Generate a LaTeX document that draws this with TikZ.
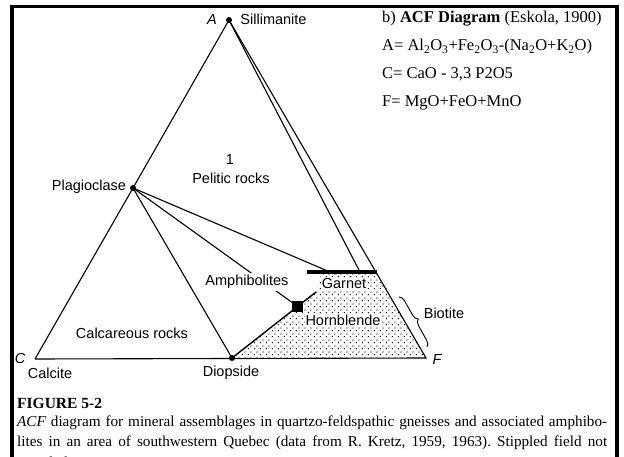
\documentclass[tikz,border=0pt]{standalone}
\usepackage{fontspec}
\setmainfont{Liberation Serif}
\newfontfamily\labelfont{Liberation Sans}
\usetikzlibrary{patterns}
\usetikzlibrary{decorations.pathreplacing}
\frenchspacing
\pgfdeclarepatternformonly{stipple}{\pgfpointorigin}{\pgfqpoint{5.6pt}{5.6pt}}{\pgfqpoint{5.6pt}{5.6pt}}{
  \pgfpathcircle{\pgfqpoint{1.4pt}{1.4pt}}{0.7pt}
  \pgfpathcircle{\pgfqpoint{4.2pt}{4.2pt}}{0.7pt}
  \pgfusepath{fill}
}
\tikzset{
  edge/.style={line width=1.1pt},
  phase/.style={font=\labelfont\fontsize{14.5}{16}\selectfont, inner sep=1pt},
  corner/.style={font=\labelfont\itshape\fontsize{14.5}{16}\selectfont, inner sep=1pt},
  formula/.style={font=\fontsize{16.5}{20}\selectfont, anchor=base west, inner sep=0pt},
  caption/.style={font=\fontsize{15.2}{17}\selectfont, anchor=base west, inner sep=0pt},
  phasedot/.style={circle, fill, inner sep=0pt, minimum size=6pt},
}
\begin{document}
\begin{tikzpicture}[x=1pt,y=-1pt]
  \useasboundingbox (0,0) rectangle (624,457);
  % frame
  \draw[line width=3.5pt] (12,490) -- (12,6.5) -- (617,6.5) -- (617,490);

  % corners and phases
  \coordinate (A) at (229,20);
  \coordinate (C) at (35,359);
  \coordinate (F) at (426,358);
  \coordinate (Pl) at (133,188);
  \coordinate (Di) at (232,358);
  \coordinate (Hb) at (297,306);
  \coordinate (Hend) at (316,292);
  \coordinate (Gl) at (307,272);
  \coordinate (Gr) at (377,272);
  \coordinate (Gp) at (330,272);
  \coordinate (Gs) at (360,272);
  \coordinate (Gd) at (322,272);
  \coordinate (bt) at (399,297);
  \coordinate (bb) at (427,347);

  % stippled field
  \fill[pattern=stipple] (Di) -- (Hend) -- (Gd) -- (Gr) -- (F) -- cycle;

  \draw[edge] (C) -- (Pl) -- (A) -- (F) -- (C);
  \draw[edge] (A) -- (Gs);
  \draw[edge] (Pl) -- (Di);
  \draw[edge] (Pl) -- (Gp);
  \draw[edge] (Pl) -- (Hb);
  \draw[edge, line width=1.4pt] (Di) -- (Hend);
  \draw[line width=4pt] (Gl) -- (Gr);
  \draw[line width=0.9pt, decorate, decoration={brace, amplitude=6pt}] (bt) -- (bb);

  \node[phasedot] (pA) at (A) {};
  \node[phasedot] (pPl) at (Pl) {};
  \node[phasedot] (pDi) at (Di) {};
  \node[fill, minimum size=11pt, inner sep=0pt] (pHb) at (Hb) {};

  % labels
  \node[corner] (lA) at (212,20) {A};
  \node[corner] (lC) at (20,359) {C};
  \node[corner] (lF) at (437,360) {F};
  \node[phase] (lSil) at (273.5,19) {Sillimanite};
  \node[phase] (lOne) at (230,160) {1};
  \node[phase] (lPel) at (231,178) {Pelitic rocks};
  \node[phase] (lPl) at (89,187) {Plagioclase};
  \node[phase, fill=white, inner sep=2pt] (lAm) at (247,282) {Amphibolites};
  \node[phase] (lCa) at (132,333) {Calcareous rocks};
  \node[phase] (lCc) at (50,373) {Calcite};
  \node[phase] (lDi) at (231,373) {Diopside};
  \node[phase, fill=white] (lGt) at (344,284) {Garnet};
  \node[phase, fill=white] (lHb) at (343,320) {Hornblende};
  \node[phase] (lBt) at (444,313) {Biotite};

  % formulas
  \node[formula] (hdr) at (382,23) {b) \textbf{ACF Diagram} (Eskola, 1900)};
  \node[formula] (fA) at (382,51) {A= Al\textsubscript{2}O\textsubscript{3}+Fe\textsubscript{2}O\textsubscript{3}-(Na\textsubscript{2}O+K\textsubscript{2}O)};
  \node[formula] (fC) at (382,79) {C= CaO - 3,3 P2O5};
  \node[formula] (fF) at (382,107) {F= MgO+FeO+MnO};

  % caption
  \node[caption, font=\bfseries\fontsize{15.5}{18}\selectfont] (fig) at (17,408) {FIGURE 5-2};
  \node[caption] (cap1) at (17,426) {\makebox[590pt][s]{\textit{ACF} diagram for mineral assemblages in quartzo-feldspathic gneisses and associated amphibo-}};
  \node[caption] (cap2) at (17,446.5) {\makebox[590pt][s]{lites in an area of southwestern Quebec (data from R. Kretz, 1959, 1963). Stippled field not}};
  \node[caption] (cap3) at (17,467) {sampled.};
\end{tikzpicture}
\end{document}
